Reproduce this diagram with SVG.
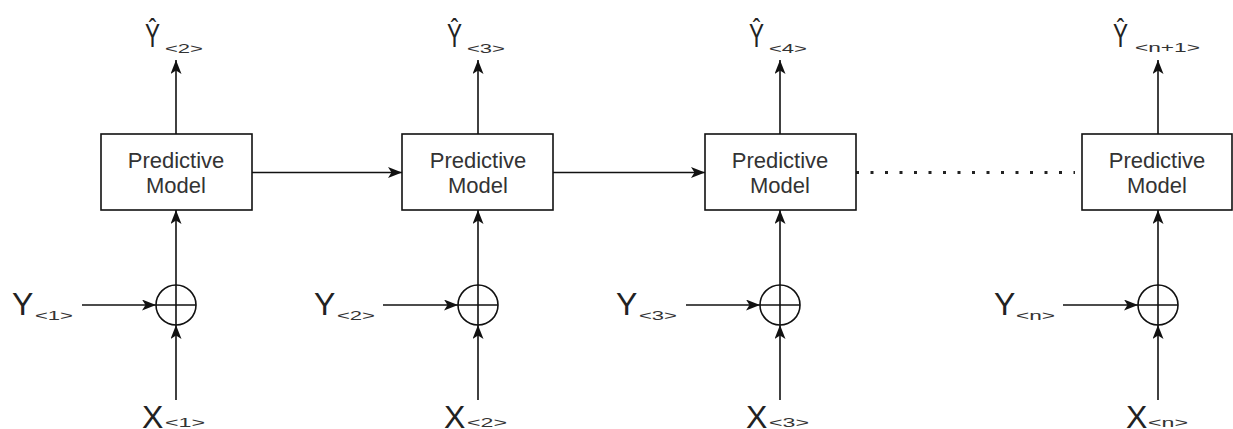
<svg xmlns="http://www.w3.org/2000/svg" width="1233" height="429" viewBox="0 0 1233 429">
<style>
.box{fill:#fff;stroke:#111;stroke-width:1.6}
.sum{fill:none;stroke:#111;stroke-width:1.6}
.ln{fill:none;stroke:#111;stroke-width:1.6}
.dot{fill:none;stroke:#222;stroke-width:3;stroke-dasharray:3 11.5}
.lbl{font-family:"Liberation Sans",Arial,sans-serif;font-size:22px;fill:#333;text-anchor:middle}
.big{font-family:"Liberation Sans",Arial,sans-serif;font-size:32px;fill:#222}
.hat{font-family:"Liberation Sans",Arial,sans-serif;font-size:34px;fill:#222}
.sub{font-family:"Liberation Sans",Arial,sans-serif;font-size:12px;fill:#333}
</style>
<defs>
<marker id="arr" markerUnits="userSpaceOnUse" markerWidth="15" markerHeight="12" refX="14" refY="5.5" orient="auto">
<path d="M0,0 L14,5.5 L0,11 L3.5,5.5 z" fill="#111"/>
</marker>
</defs>
<rect width="1233" height="429" fill="#fff"/>

<g id="connectors">
<line class="ln" x1="176" y1="134" x2="176" y2="60" marker-end="url(#arr)"/>
<line class="ln" x1="478" y1="134" x2="478" y2="60" marker-end="url(#arr)"/>
<line class="ln" x1="780" y1="134" x2="780" y2="60" marker-end="url(#arr)"/>
<line class="ln" x1="1158" y1="134" x2="1158" y2="60" marker-end="url(#arr)"/>
<line class="ln" x1="252" y1="172.5" x2="402" y2="172.5" marker-end="url(#arr)"/>
<line class="ln" x1="553" y1="172.5" x2="705" y2="172.5" marker-end="url(#arr)"/>
<line class="dot" x1="856" y1="172.5" x2="1075" y2="172.5"/>
<line class="ln" x1="176" y1="285" x2="176" y2="210" marker-end="url(#arr)"/>
<line class="ln" x1="478" y1="285" x2="478" y2="210" marker-end="url(#arr)"/>
<line class="ln" x1="780" y1="285" x2="780" y2="210" marker-end="url(#arr)"/>
<line class="ln" x1="1158" y1="285" x2="1158" y2="210" marker-end="url(#arr)"/>
<line class="ln" x1="176" y1="400" x2="176" y2="325" marker-end="url(#arr)"/>
<line class="ln" x1="478" y1="400" x2="478" y2="325" marker-end="url(#arr)"/>
<line class="ln" x1="780" y1="400" x2="780" y2="325" marker-end="url(#arr)"/>
<line class="ln" x1="1158" y1="400" x2="1158" y2="325" marker-end="url(#arr)"/>
<line class="ln" x1="82" y1="305" x2="156" y2="305" marker-end="url(#arr)"/>
<line class="ln" x1="383" y1="305" x2="458" y2="305" marker-end="url(#arr)"/>
<line class="ln" x1="686" y1="305" x2="760" y2="305" marker-end="url(#arr)"/>
<line class="ln" x1="1063" y1="305" x2="1138" y2="305" marker-end="url(#arr)"/>
</g>

<g id="model1"><rect class="box" x="101" y="134" width="151" height="76"/><text class="lbl" x="176" y="168">Predictive</text><text class="lbl" x="176" y="193">Model</text></g>
<g id="model2"><rect class="box" x="402" y="134" width="151" height="76"/><text class="lbl" x="478" y="168">Predictive</text><text class="lbl" x="478" y="193">Model</text></g>
<g id="model3"><rect class="box" x="705" y="134" width="151" height="76"/><text class="lbl" x="780" y="168">Predictive</text><text class="lbl" x="780" y="193">Model</text></g>
<g id="model4"><rect class="box" x="1082" y="134" width="150" height="76"/><text class="lbl" x="1157" y="168">Predictive</text><text class="lbl" x="1157" y="193">Model</text></g>

<g id="sum1"><circle class="sum" cx="176" cy="305" r="20"/><path class="ln" d="M156,305 H196 M176,285 V325"/></g>
<g id="sum2"><circle class="sum" cx="478" cy="305" r="20"/><path class="ln" d="M458,305 H498 M478,285 V325"/></g>
<g id="sum3"><circle class="sum" cx="780" cy="305" r="20"/><path class="ln" d="M760,305 H800 M780,285 V325"/></g>
<g id="sum4"><circle class="sum" cx="1158" cy="305" r="20"/><path class="ln" d="M1138,305 H1178 M1158,285 V325"/></g>

<g id="yhat2"><text class="hat" x="145" y="47" textLength="15" lengthAdjust="spacingAndGlyphs">Ŷ</text><text class="sub" x="165" y="53" font-size="13" textLength="38" lengthAdjust="spacingAndGlyphs">&lt;2&gt;</text></g>
<g id="yhat3"><text class="hat" x="447" y="47" textLength="15" lengthAdjust="spacingAndGlyphs">Ŷ</text><text class="sub" x="467" y="53" font-size="13" textLength="38" lengthAdjust="spacingAndGlyphs">&lt;3&gt;</text></g>
<g id="yhat4"><text class="hat" x="749" y="47" textLength="15" lengthAdjust="spacingAndGlyphs">Ŷ</text><text class="sub" x="769" y="53" font-size="13" textLength="38" lengthAdjust="spacingAndGlyphs">&lt;4&gt;</text></g>
<g id="yhatn1"><text class="hat" x="1113" y="47" textLength="15" lengthAdjust="spacingAndGlyphs">Ŷ</text><text class="sub" x="1135" y="52" font-size="13" textLength="65" lengthAdjust="spacingAndGlyphs">&lt;n+1&gt;</text></g>

<g id="y1"><text class="big" x="12" y="315">Y</text><text class="sub" x="35" y="320" textLength="38" lengthAdjust="spacingAndGlyphs">&lt;1&gt;</text></g>
<g id="y2"><text class="big" x="314" y="315">Y</text><text class="sub" x="337" y="320" textLength="38" lengthAdjust="spacingAndGlyphs">&lt;2&gt;</text></g>
<g id="y3"><text class="big" x="616" y="315">Y</text><text class="sub" x="639" y="320" textLength="38" lengthAdjust="spacingAndGlyphs">&lt;3&gt;</text></g>
<g id="yn"><text class="big" x="994" y="315">Y</text><text class="sub" x="1016" y="320" textLength="39" lengthAdjust="spacingAndGlyphs">&lt;n&gt;</text></g>

<g id="x1"><text class="big" x="142" y="428">X</text><text class="sub" x="165" y="427" textLength="40" lengthAdjust="spacingAndGlyphs">&lt;1&gt;</text></g>
<g id="x2"><text class="big" x="444" y="428">X</text><text class="sub" x="467" y="427" textLength="40" lengthAdjust="spacingAndGlyphs">&lt;2&gt;</text></g>
<g id="x3"><text class="big" x="746" y="428">X</text><text class="sub" x="769" y="427" textLength="40" lengthAdjust="spacingAndGlyphs">&lt;3&gt;</text></g>
<g id="xn"><text class="big" x="1126" y="428">X</text><text class="sub" x="1148" y="427" textLength="40" lengthAdjust="spacingAndGlyphs">&lt;n&gt;</text></g>
</svg>
